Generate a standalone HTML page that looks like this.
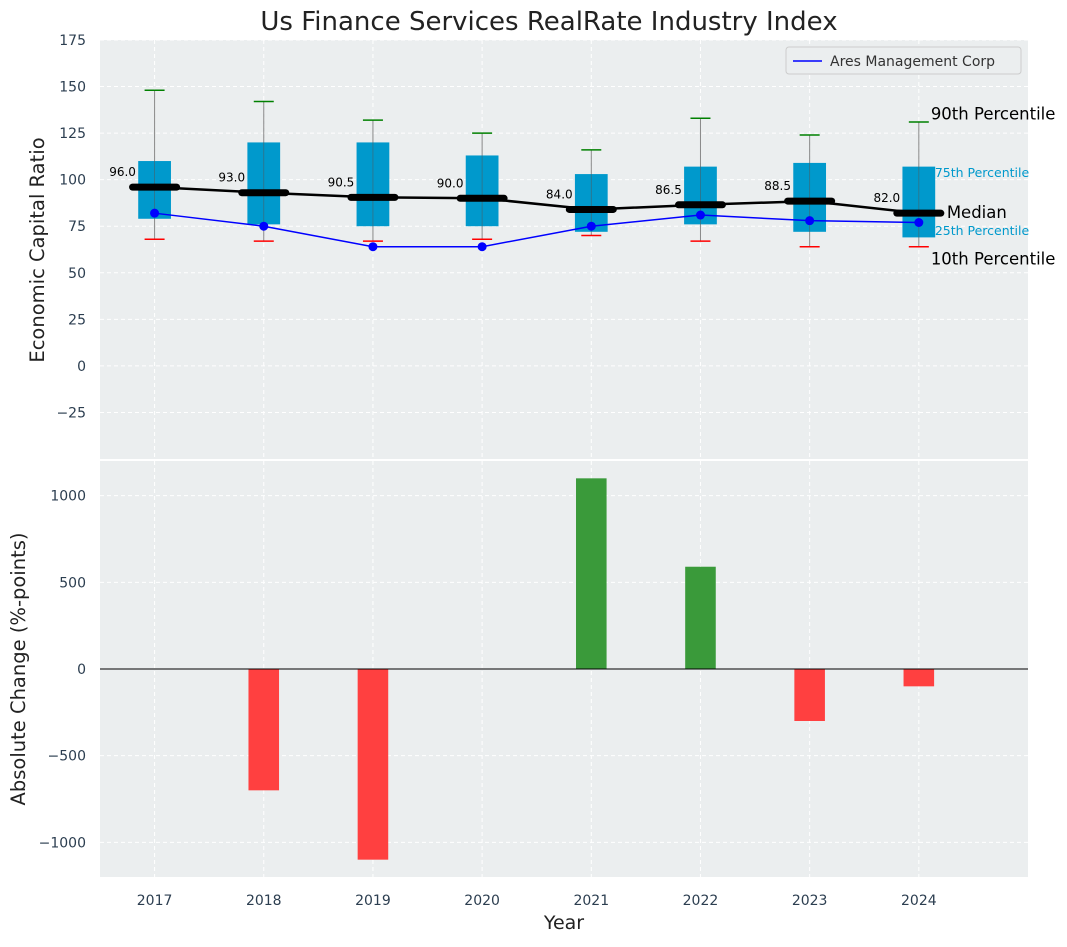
<!DOCTYPE html>
<html><head><meta charset="utf-8"><style>
body{margin:0;background:#fff;}
svg{font-family:"DejaVu Sans","Liberation Sans",sans-serif;}
</style></head><body>
<svg id="c" width="1067" height="942" xmlns="http://www.w3.org/2000/svg"></svg>
<script>
const years=[2017,2018,2019,2020,2021,2022,2023,2024];
const p10=[68,67,67,68,70,67,64,64];
const p25=[79,76,75,75,72,76,72,69];
const med=[96,93,90.5,90,84,86.5,88.5,82];
const p75=[110,120,120,113,103,107,109,107];
const p90=[148,142,132,125,116,133,124,131];
const ares=[82,75,64,64,75,81,78,77];
const change=[0,-700,-1100,0,1100,590,-300,-100];
const topTicks=[-25,0,25,50,75,100,125,150,175];
const botTicks=[-1000,-500,0,500,1000];

const NS="http://www.w3.org/2000/svg";
const svg=document.getElementById('c');
function el(t,a,txt,parent){const e=document.createElementNS(NS,t);for(const k in a)e.setAttribute(k,a[k]);if(txt!==undefined)e.textContent=txt;(parent||svg).appendChild(e);return e;}
const L=100,R=1028;
const x=v=>L+(v-2016.5)/(2025-2016.5)*(R-L);
const T1=40,B1=459,T2=461,B2=877;
const y1=v=>T1+(175-v)/(175+50)*(B1-T1);
const y2=v=>T2+(1200-v)/2400*(B2-T2);
const axisCol="#2c3e50";

let r=el('rect',{x:L,y:T1,width:R-L,height:B1-T1,fill:"#ebeeef"});

r=el('rect',{x:L,y:T2,width:R-L,height:B2-T2,fill:"#ebeeef"});


years.forEach(yr=>{
 el('line',{x1:x(yr),x2:x(yr),y1:T1,y2:B1,stroke:"#fff","stroke-dasharray":"4,3","stroke-width":1});
 el('line',{x1:x(yr),x2:x(yr),y1:T2,y2:B2,stroke:"#fff","stroke-dasharray":"4,3","stroke-width":1});
 let t=el('text',{x:x(yr),y:905,"text-anchor":"middle","font-size":14,fill:axisCol},yr);
 
});
topTicks.forEach(v=>{
 el('line',{x1:L,x2:R,y1:y1(v),y2:y1(v),stroke:"#fff","stroke-dasharray":"4,3"});
 let t=el('text',{x:L-14,y:y1(v)+5,"text-anchor":"end","font-size":14,fill:axisCol},v<0?"\u2212"+(-v):v);
 
});
botTicks.forEach(v=>{
 el('line',{x1:L,x2:R,y1:y2(v),y2:y2(v),stroke:"#fff","stroke-dasharray":"4,3"});
 let t=el('text',{x:L-14,y:y2(v)+5,"text-anchor":"end","font-size":14,fill:axisCol},v<0?"\u2212"+(-v):v);
 
});

const bw=0.3*(x(1)-x(0));
years.forEach((yr,i)=>{
 const cx=x(yr);
 let g=el('g',{});
 
 el('line',{x1:cx,x2:cx,y1:y1(p90[i]),y2:y1(p10[i]),stroke:"#888","stroke-width":1},undefined,g);
 el('rect',{x:cx-bw/2,y:y1(p75[i]),width:bw,height:y1(p25[i])-y1(p75[i]),fill:"#0099cc"},undefined,g);
 el('line',{x1:cx,x2:cx,y1:y1(p75[i]),y2:y1(p25[i]),stroke:"#555","stroke-width":0.8,opacity:0.6},undefined,g);
 el('line',{x1:cx-10,x2:cx+10,y1:y1(p90[i]),y2:y1(p90[i]),stroke:"green","stroke-width":1.5},undefined,g);
 el('line',{x1:cx-10,x2:cx+10,y1:y1(p10[i]),y2:y1(p10[i]),stroke:"red","stroke-width":1.5},undefined,g);
 el('line',{x1:cx-22,x2:cx+22,y1:y1(med[i]),y2:y1(med[i]),stroke:"#000","stroke-width":7,"stroke-linecap":"round"},undefined,g);
 let t=el('text',{x:cx-32,y:y1(med[i])-11,"text-anchor":"middle","font-size":12,fill:"#000"},med[i].toFixed(1));
 
});
let mp=el('polyline',{points:years.map((yr,i)=>x(yr)+","+y1(med[i])).join(" "),fill:"none",stroke:"#000","stroke-width":2.5});

let ap=el('polyline',{points:years.map((yr,i)=>x(yr)+","+y1(ares[i])).join(" "),fill:"none",stroke:"blue","stroke-width":1.5});

years.forEach((yr,i)=>{let c=el('circle',{cx:x(yr),cy:y1(ares[i]),r:4.5,fill:"blue"});
 });

const lx=x(2024);
[["90th Percentile",p90[7]+4,lx+12,16.5,"#000"],["75th Percentile",p75[7]-3,lx+16,12.5,"#0099cc"],["Median",med[7],lx+28,16.5,"#000"],["25th Percentile",p25[7]+4,lx+16,12.5,"#0099cc"],["10th Percentile",p10[7]-7,lx+12,16.5,"#000"]].forEach(a=>{
 let t=el('text',{x:a[2],y:y1(a[1])+5,"font-size":a[3],fill:a[4]},a[0]);
 
});

let lg=el('g',{});

el('rect',{x:786,y:47,width:235,height:27,rx:3,fill:"#ebeeef",stroke:"#ccc"},undefined,lg);
el('line',{x1:793,x2:822,y1:61,y2:61,stroke:"blue","stroke-width":1.5},undefined,lg);
el('text',{x:830,y:66,"font-size":14,fill:"#333"},"Ares Management Corp",lg);

const barW=0.28*(x(1)-x(0));
years.forEach((yr,i)=>{
 const v=change[i]; if(v===0) return;
 let b=el('rect',{x:x(yr)-barW/2,y:Math.min(y2(v),y2(0)),width:barW,height:Math.abs(y2(v)-y2(0)),fill:v>0?"#3a9a3a":"#ff4040"});
 
});
el('line',{x1:L,x2:R,y1:y2(0),y2:y2(0),stroke:"#000","stroke-width":1});

let t=el('text',{x:549,y:30,"text-anchor":"middle","font-size":26,fill:"#222"},"Us Finance Services RealRate Industry Index");

t=el('text',{x:44,y:250,"text-anchor":"middle","font-size":19.5,fill:"#222",transform:"rotate(-90 44 250)"},"Economic Capital Ratio");

t=el('text',{x:25,y:669,"text-anchor":"middle","font-size":19.5,fill:"#222",transform:"rotate(-90 25 669)"},"Absolute Change (%-points)");

t=el('text',{x:564,y:929,"text-anchor":"middle","font-size":19,fill:"#222"},"Year");

</script>
</body></html>
